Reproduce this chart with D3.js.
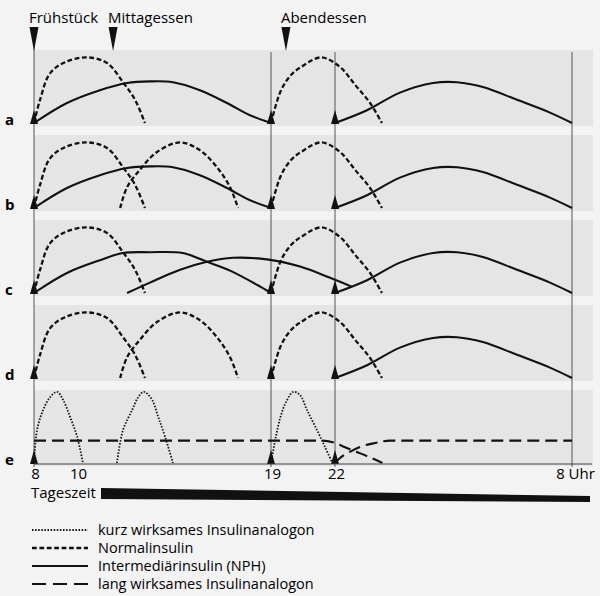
<!DOCTYPE html>
<html>
<head>
<meta charset="utf-8">
<script src="https://cdn.jsdelivr.net/npm/d3@7"></script>
<style>
body { margin: 0; background: #f3f3f3; }
text { font-family: "Open Sans", sans-serif; fill: #000; }
</style>
</head>
<body>
<div id="chart"></div>
<script>
// --- data (hours of the day, level in % of the tallest peak) ---
const rowNames = ["a", "b", "c", "d", "e"];
const hourTicks = [8, 10, 19, 22, 32];
const tickLabels = ["8", "10", "19", "22", "8 Uhr"];
const mealNames = ["Frühstück", "Mittagessen", "Abendessen"];
const mealHours = [8, 11.67, 19.7];
const injectionHours = [8, 19, 22];

const normalMorning = [[8,0],[8.28,29],[8.74,62],[9.44,76],[10.46,82],[11.39,75],[12.13,51],[12.69,29],[13.15,0]];
const normalNoon = [[12,0],[12.32,26],[12.92,48],[13.71,70],[14.78,82],[15.71,72],[16.49,51],[17.1,26],[17.47,0]];
const normalEvening = [[19,0],[19.47,41],[19.94,60],[20.41,70],[21.35,82],[22.21,70],[22.84,48],[23.48,25],[23.98,0]];
const nphDay = [[8,0],[9.53,25],[11.06,41],[12.32,50],[13.38,52],[14.45,51],[15.7,41],[16.96,25],[18,10],[19,0]];
const nphDayC = [[8,0],[9.53,25],[11.06,41],[12.13,50],[13.38,51],[14.9,50],[16.03,39],[17.1,28],[18.5,8],[19,0]];
const nphNoon = [[12.32,0],[13.38,13],[14.78,29],[16.03,39],[17.23,44],[18.81,42],[20.36,33],[21.77,19],[22.7,8]];
const nphNight = [[22,0],[23.35,16],[24.74,38],[26.14,50],[27.15,51],[28.24,45],[29.68,29],[31.07,13],[32,0]];
const rapidMorning = [[8,0],[8.14,41],[8.42,66],[8.74,82],[9.07,89],[9.35,79],[9.67,58],[10,33],[10.27,0]];
const rapidNoon = [[11.85,0],[12.13,41],[12.55,66],[12.83,82],[13.1,89],[13.48,79],[13.76,58],[14.08,33],[14.45,0]];
const rapidEvening = [[19,0],[19.23,33],[19.45,58],[19.7,76],[20.05,89],[20.36,85],[20.69,66],[21.16,41],[21.53,20],[21.86,1]];
const longDay = [[8,28],[21.4,28],[22,25],[22.4,20],[22.9,14],[23.4,8],[24,0]];
const longNight = [[22,0],[22.2,6],[22.63,14],[23.05,20],[23.69,25],[24.32,28],[32,28]];

const rowA = [["normal", normalMorning], ["nph", nphDay], ["normal", normalEvening], ["nph", nphNight]];
const rowB = [["normal", normalMorning], ["normal", normalNoon], ["nph", nphDay], ["normal", normalEvening], ["nph", nphNight]];
const rowC = [["normal", normalMorning], ["nph", nphDayC], ["nph", nphNoon], ["normal", normalEvening], ["nph", nphNight]];
const rowD = [["normal", normalMorning], ["normal", normalNoon], ["normal", normalEvening], ["nph", nphNight]];
const rowE = [["rapid", rapidMorning], ["rapid", rapidNoon], ["rapid", rapidEvening], ["long", longDay], ["long", longNight]];
const rowCurves = [rowA, rowB, rowC, rowD, rowE];

const legendKeys = ["rapid", "normal", "nph", "long"];
const legendLabels = ["kurz wirksames Insulinanalogon", "Normalinsulin", "Intermediärinsulin (NPH)", "lang wirksames Insulinanalogon"];

const styles = {
  rapid: { dash: "1.5,1.6", w: 1.8 },
  normal: { dash: "4.8,2.6", w: 2.3 },
  nph: { dash: null, w: 2.1 },
  long: { dash: "12,6", w: 2.1 }
};

// --- chart ---
const width = 600, height = 596;
const svg = d3.select("#chart").append("svg")
  .attr("width", width)
  .attr("height", height);

const x = d3.scaleLinear().domain([8, 19, 22, 32]).range([34, 271, 335, 572]);
const rowY = d3.scalePoint().domain(rowNames).range([123, 463]);
const lvl = d3.scaleLinear().domain([0, 100]).range([0, -80]);

// grey panels behind the rows
svg.selectAll("rect.band")
  .data(rowNames)
  .enter().append("rect")
  .attr("x", 34)
  .attr("y", d => rowY(d) - 73)
  .attr("width", 559)
  .attr("height", 76)
  .attr("fill", "#e5e5e5");

// vertical guide lines
svg.selectAll("line.guide")
  .data([8, 19, 22, 32])
  .enter().append("line")
  .attr("x1", d => x(d)).attr("x2", d => x(d))
  .attr("y1", d => d === 8 ? 45 : 52)
  .attr("y2", 467)
  .attr("stroke", "#555")
  .attr("stroke-width", 1);

// curves
rowNames.forEach(function(r, i) {
  const base = rowY(r);
  const line = d3.line()
    .x(d => x(d[0]))
    .y(d => base + lvl(d[1]))
    .curve(d3.curveCatmullRom.alpha(0.5));
  const flatLine = d3.line()
    .x(d => x(d[0]))
    .y(d => base + lvl(d[1]))
    .curve(d3.curveMonotoneX);

  rowCurves[i].forEach(function([type, pts]) {
    svg.append("path")
      .attr("d", type === "long" ? flatLine(pts) : line(pts))
      .attr("fill", "none")
      .attr("stroke", "#111")
      .attr("stroke-width", styles[type].w)
      .attr("stroke-dasharray", styles[type].dash);
  });

  // injection triangles
  svg.selectAll(null)
    .data(injectionHours)
    .enter().append("path")
    .attr("d", d => `M${x(d) - 4},${base + 1}L${x(d) + 4},${base + 1}L${x(d)},${base - 13}Z`)
    .attr("fill", "#111");

  svg.append("text")
    .attr("x", 5)
    .attr("y", base + 2)
    .attr("font-size", 15)
    .attr("font-weight", "bold")
    .text(r);
});

// meal markers
svg.selectAll(null)
  .data(mealHours)
  .enter().append("path")
  .attr("d", d => `M${x(d) - 4.5},27L${x(d) + 4.5},27L${x(d)},51Z`)
  .attr("fill", "#111");

svg.selectAll(null)
  .data(mealNames)
  .enter().append("text")
  .attr("x", (d, i) => x(mealHours[i]) - 5)
  .attr("y", 23)
  .attr("font-size", 15)
  .text(d => d);

// time axis
svg.append("line")
  .attr("x1", 34).attr("x2", 592)
  .attr("y1", 464).attr("y2", 464)
  .attr("stroke", "#444")
  .attr("stroke-width", 1.2);

const axis = d3.axisBottom(x)
  .tickValues(hourTicks)
  .tickFormat((d, i) => tickLabels[i])
  .tickSize(0)
  .tickPadding(4);

const gAxis = svg.append("g")
  .attr("transform", "translate(0,464)")
  .call(axis);
gAxis.select(".domain").remove();
gAxis.selectAll("text")
  .attr("font-size", 15)
  .attr("font-family", "Open Sans, sans-serif")
  .attr("fill", "#000")
  .attr("dx", (d, i) => i === 4 ? 3 : 1);

// Tageszeit wedge
svg.append("text")
  .attr("x", 31)
  .attr("y", 498)
  .attr("font-size", 15)
  .text("Tageszeit");

svg.append("path")
  .attr("d", "M101,488L590,496L590,502L101,499Z")
  .attr("fill", "#111");

// legend
const legend = svg.selectAll("g.legend")
  .data(legendKeys)
  .enter().append("g")
  .attr("transform", (d, i) => `translate(0,${530 + i * 18})`);

legend.append("line")
  .attr("x1", 32).attr("x2", 88)
  .attr("y1", 0).attr("y2", 0)
  .attr("stroke", "#111")
  .attr("stroke-width", d => styles[d].w)
  .attr("stroke-dasharray", d => d === "long" ? "14,7" : styles[d].dash);

legend.append("text")
  .attr("x", 98)
  .attr("y", 5)
  .attr("font-size", 14.5)
  .text((d, i) => legendLabels[i]);
</script>
</body>
</html>
